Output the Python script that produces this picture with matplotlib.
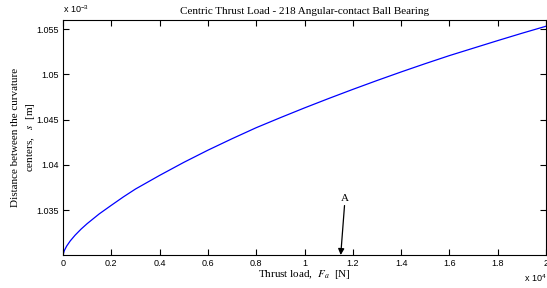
import matplotlib
matplotlib.use("Agg")
import matplotlib.pyplot as plt
from matplotlib.ticker import FixedLocator, FixedFormatter

plt.rcParams['mathtext.fontset'] = 'stix'

# Data (load in N, distance in units of 1e-3 m)
load = [0, 50, 150, 300, 500, 750, 1000, 1500, 2000, 2500, 3000, 4000, 5000,
        6000, 7000, 8000, 9000, 10000, 11000, 12000, 13000, 14000, 15000,
        16000, 17000, 18000, 19000, 20000]
dist = [1.03000, 1.03048, 1.03100, 1.03158, 1.03221, 1.03289, 1.03349,
        1.03457, 1.03552, 1.03645, 1.03732, 1.03883, 1.04027, 1.04162,
        1.04289, 1.04411, 1.04522, 1.04630, 1.04734, 1.04835, 1.04933,
        1.05028, 1.05120, 1.05209, 1.05292, 1.05375, 1.05456, 1.05534]

xticks = [0, 2000, 4000, 6000, 8000, 10000, 12000, 14000, 16000, 18000, 20000]
xticklabels = ['0', '0.2', '0.4', '0.6', '0.8', '1', '1.2', '1.4', '1.6', '1.8', '2']
yticks = [1.035, 1.040, 1.045, 1.050, 1.055]
yticklabels = ['1.035', '1.04', '1.045', '1.05', '1.055']

title = 'Centric Thrust Load - 218 Angular-contact Ball Bearing'
xlabel = 'Thrust load,  $F_a$  [N]'
ylabel = 'Distance between the curvature\ncenters,   $s$  [m]'

W, H = 547, 288
fig = plt.figure(figsize=(W / 100, H / 100), dpi=100)
ax = fig.add_axes([63 / W, (H - 255) / H, (546 - 63) / W, (255 - 20) / H])

ax.plot(load, dist, color='#0000ff', linewidth=0.9)
ax.set_xlim(0, 20000)
ax.set_ylim(1.03002, 1.05603)

ax.xaxis.set_major_locator(FixedLocator(xticks))
ax.xaxis.set_major_formatter(FixedFormatter(xticklabels))
ax.yaxis.set_major_locator(FixedLocator(yticks))
ax.yaxis.set_major_formatter(FixedFormatter(yticklabels))
ax.tick_params(direction='in', top=True, right=True, length=4, width=0.8,
               labelsize=6.5, pad=3)
for lab in ax.get_xticklabels() + ax.get_yticklabels():
    lab.set_family('Liberation Sans')
for sp in ax.spines.values():
    sp.set_linewidth(0.8)

ax.set_title(title, fontsize=8, family='Liberation Serif', pad=4)
ax.set_xlabel(xlabel, fontsize=8, family='Liberation Serif', labelpad=0)
ax.set_ylabel(ylabel, fontsize=8, family='Liberation Serif', linespacing=1.45,
              va='center', ha='center')
ax.yaxis.set_label_coords(-0.08, 0.5)

fig.text(63 / W, (H - 13) / H, r'x 10$^{\mathregular{-3}}$', fontsize=6.5,
         family='Liberation Sans', ha='left', va='baseline')
fig.text(524 / W, (H - 282) / H, r'x 10$^{\mathregular{4}}$', fontsize=6.5,
         family='Liberation Sans', ha='left', va='baseline')

ax.annotate('A', xy=(11500, 1.03002), xytext=(11680, 1.0358),
            fontsize=8, family='Liberation Serif', ha='center', va='bottom',
            arrowprops=dict(arrowstyle='-|>', color='black', lw=0.9,
                            mutation_scale=9, shrinkA=0, shrinkB=0))

fig.savefig('out.png', dpi=100)
